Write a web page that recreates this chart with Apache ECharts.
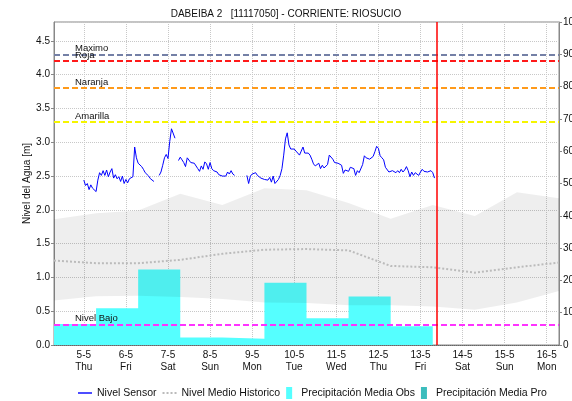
<!DOCTYPE html>
<html>
<head>
<meta charset="utf-8">
<script src="https://cdn.jsdelivr.net/npm/echarts@6/dist/echarts.min.js"></script>
<style>
html, body { margin: 0; padding: 0; background: #fff; }
#chart { width: 572px; height: 401px; }
</style>
</head>
<body>
<div id="chart"></div>
<script>
var HOUR = 3600 * 1000;
var DAY = 24 * HOUR;

// rango del grafico: 4-5 07:00 a 16-5 07:00
var tIni = new Date(2022, 4, 4, 7).getTime();
var tFin = new Date(2022, 4, 16, 7).getTime();
var tAhora = new Date(2022, 4, 13, 9).getTime();
var tSensor = new Date(2022, 4, 5, 0).getTime();

var diasSemana = ['Sun', 'Mon', 'Tue', 'Wed', 'Thu', 'Fri', 'Sat'];

// nivel sensor [m], un dato por hora desde 5-5 00:00 (null = sin dato)
var nivelSensor = [
  2.44, 2.36, 2.39, 2.30, 2.37, 2.32, 2.34, 2.27, 2.44, 2.55,
  2.51, 2.58, 2.51, 2.59, 2.49, 2.56, 2.61, 2.47, 2.52, 2.46,
  2.49, 2.42, 2.50, 2.39, 2.45, 2.40, 2.46, 2.44, 2.49, 2.93,
  2.77, 2.69, 2.70, 2.64, 2.60, 2.55, 2.53, 2.50, 2.46, 2.46,
  2.42, null, null,
  2.51, 2.56, 2.66, 2.77, 2.82, 2.76, 3.01, 3.20, 3.22, 3.06,
  null,
  2.73, 2.78, 2.74, 2.70, 2.64, 2.77, 2.79, 2.70, 2.70, 2.69,
  2.71, 2.61, 2.57, 2.65, 2.60, 2.71, 2.68, 2.60, 2.70, 2.61,
  2.58, 2.56, 2.56, 2.52, 2.50, 2.50, 2.52, 2.50, 2.56, 2.53,
  2.58, 2.53, 2.51,
  null, null, null, null, null, null,
  2.51, 2.39, 2.50, 2.53, 2.52, 2.55, 2.51, 2.50, 2.47, 2.48,
  2.45, 2.46, 2.44, 2.48, 2.41, 2.50, 2.39, 2.41, 2.45, 2.51,
  2.61, 2.81, 3.05, 3.14, 2.96, 2.90, 2.88, 2.90, 2.87, 2.85,
  2.81, 2.87, 2.93, 2.84, 2.86, 2.84, 2.81, 2.75, 2.68,
  2.65, 2.64, 2.69, 2.61, 2.66, 2.62, 2.61, 2.67, 2.81, 2.80,
  2.75, 2.70, 2.71, 2.69, 2.71, 2.66, 2.54, 2.59, 2.60, 2.57,
  2.63, 2.62, 2.61, 2.51, 2.58, 2.55, 2.56, 2.67, 2.80, 2.77,
  2.78, 2.75, 2.76, 2.79, 2.86, 2.94, 2.91, 2.80, 2.77, 2.74,
  2.63, 2.65, 2.56, 2.57, 2.58, 2.60, 2.55, 2.58, 2.55, 2.60,
  2.56, 2.59, 2.64, 2.58, 2.49, 2.56, 2.51, 2.55, 2.57, 2.51,
  2.56, 2.60, 2.57, 2.57, 2.56, 2.56, 2.58, 2.55, 2.47
];

// historico [m], un valor por dia a las 07:00 desde 4-5
var histMedio = [1.25, 1.21, 1.21, 1.26, 1.35, 1.41, 1.42, 1.40, 1.17, 1.15, 1.07, 1.15, 1.22];
var histMin = [0.66, 0.72, 0.73, 0.71, 0.68, 0.63, 0.62, 0.59, 0.59, 0.57, 0.52, 0.63, 0.80];
var histMax = [1.86, 1.95, 1.99, 2.24, 2.07, 2.32, 2.29, 2.10, 1.87, 2.07, 1.91, 2.26, 2.17];

// precipitacion media observada [mm], dias de 07:00 a 07:00 desde 4-5
var precipObs = [6.5, 11.4, 23.4, 2.3, 1.9, 19.3, 8.3, 15.0, 5.8];

// umbrales [m]
var umbralNombres = ['Maximo', 'Roja', 'Naranja', 'Amarilla', 'Nivel Bajo'];
var umbralValores = [4.3, 4.2, 3.8, 3.3, 0.3];
var umbralColores = ['#7480a6', '#ff1a1a', '#ff9a1a', '#f5f500', '#ff33ff'];

var sensorData = nivelSensor.map(function (v, i) {
  return [tSensor + i * HOUR, v];
});

function diario(arr) {
  return arr.map(function (v, i) { return [tIni + i * DAY, v]; });
}

var precipData = diario(precipObs);
precipData.push([tIni + precipObs.length * DAY, precipObs[precipObs.length - 1]]);

var bandaBase = diario(histMin);
var bandaAncho = histMax.map(function (v, i) { return [tIni + i * DAY, v - histMin[i]]; });

var marcas = umbralNombres.map(function (n, i) {
  return {
    name: n,
    yAxis: umbralValores[i],
    lineStyle: { color: umbralColores[i], type: [6, 3], width: 2 },
    label: {
      show: true, formatter: '{b}', position: 'insideStartTop',
      distance: [21, 1], color: '#111', fontSize: 9.5
    }
  };
});
marcas.push({
  xAxis: tAhora,
  lineStyle: { color: '#ff0000', type: 'solid', width: 1.5 },
  label: { show: false }
});

// iconos de la leyenda
var rectIcon = 'path://M0,0h6v12h-6z';
var lineaIcon = 'path://M0,0h14v1.4h-14z';
var puntosIcon = 'path://M0,0h2v2h-2zM4,0h2v2h-2zM8,0h2v2h-2zM12,0h2v2h-2z';

var chart = echarts.init(document.getElementById('chart'));
chart.setOption({
  animation: false,
  textStyle: { fontFamily: 'Liberation Sans, Arial, sans-serif' },
  title: {
    text: 'DABEIBA 2   [11117050] - CORRIENTE: RIOSUCIO',
    left: 'center', top: 4,
    textStyle: { fontSize: 10, fontWeight: 'normal', color: '#111' }
  },
  legend: {
    top: 382, left: 73, itemWidth: 14, itemHeight: 12, itemGap: 6,
    textStyle: { fontSize: 10.5, color: '#111' },
    data: [
      { name: 'Nivel Sensor', icon: lineaIcon },
      { name: 'Nivel Medio Historico', icon: puntosIcon },
      { name: 'Precipitación Media Obs', icon: rectIcon },
      { name: 'Precipitación Media Pro', icon: rectIcon }
    ]
  },
  grid: {
    left: 54, right: 13, top: 22, bottom: 56,
    outerBoundsMode: 'none',
    show: true, borderColor: '#888', borderWidth: 1
  },
  xAxis: {
    type: 'time', min: tIni, max: tFin,
    minInterval: DAY, maxInterval: DAY,
    axisLine: { lineStyle: { color: '#666', type: 'dotted' } },
    axisTick: { show: false },
    axisLabel: {
      fontSize: 10, color: '#111', lineHeight: 12, margin: 4,
      showMinLabel: false, showMaxLabel: false, hideOverlap: false,
      formatter: function (v) {
        var d = new Date(v);
        return d.getDate() + '-' + (d.getMonth() + 1) + '\n' + diasSemana[d.getDay()];
      }
    },
    splitLine: { show: true, lineStyle: { color: '#c8c8c8', type: 'dotted' } }
  },
  yAxis: [{
    type: 'value', min: 0, max: 4.78, interval: 0.5,
    name: 'Nivel del Agua [m]', nameLocation: 'middle', nameGap: 22,
    nameMoveOverlap: false,
    nameTextStyle: { fontSize: 10, color: '#111' },
    axisLine: { show: true, lineStyle: { color: '#888' } },
    axisTick: { show: true, length: 3, lineStyle: { color: '#888' } },
    axisLabel: {
      fontSize: 10, color: '#111', margin: 4, showMaxLabel: false,
      formatter: function (v) { return v.toFixed(1); }
    },
    splitLine: { show: true, lineStyle: { color: '#c8c8c8', type: 'dotted' } }
  }, {
    type: 'value', min: 0, max: 100, interval: 10, position: 'right',
    axisLine: { show: true, lineStyle: { color: '#888' } },
    axisTick: { show: true, length: 3, lineStyle: { color: '#888' } },
    axisLabel: { fontSize: 10, color: '#111', margin: 4 },
    splitLine: { show: false }
  }],
  series: [{
    name: 'Precipitación Media Obs', type: 'line', yAxisIndex: 1,
    step: 'end', symbol: 'none', data: precipData, z: 1,
    itemStyle: { color: '#55ffff' },
    lineStyle: { width: 0 },
    areaStyle: { color: '#55ffff', opacity: 1 }
  }, {
    name: 'Precipitación Media Pro', type: 'line', yAxisIndex: 1,
    symbol: 'none', data: [], itemStyle: { color: '#3cbdbd' }
  }, {
    name: 'hist-base', type: 'line', stack: 'hist', symbol: 'none', silent: true,
    data: bandaBase, lineStyle: { opacity: 0 }, z: 2
  }, {
    name: 'hist-banda', type: 'line', stack: 'hist', symbol: 'none', silent: true,
    data: bandaAncho, lineStyle: { opacity: 0 },
    areaStyle: { color: 'rgba(0,0,0,0.065)', opacity: 1 }, z: 2
  }, {
    name: 'Nivel Medio Historico', type: 'line', symbol: 'none', data: diario(histMedio),
    itemStyle: { color: '#bbbbbb' },
    lineStyle: { color: '#bbbbbb', type: 'dotted', width: 2 }, z: 3
  }, {
    name: 'Nivel Sensor', type: 'line', symbol: 'none', data: sensorData,
    connectNulls: false, z: 5,
    itemStyle: { color: '#0000ff' },
    lineStyle: { color: '#0000ff', width: 1 },
    markLine: { symbol: ['none', 'none'], silent: true, data: marcas }
  }]
});
</script>
</body>
</html>
